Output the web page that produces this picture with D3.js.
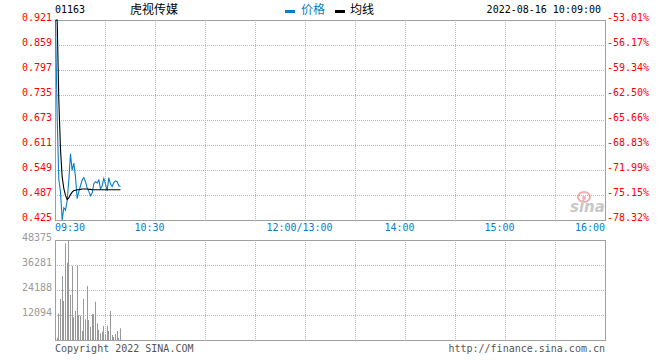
<!DOCTYPE html>
<html><head><meta charset="utf-8">
<script src="https://cdn.jsdelivr.net/npm/d3@7"></script>
<style>
html,body{margin:0;padding:0;background:#fff;}
svg{display:block;}
text{font-family:"DejaVu Sans Mono",monospace;font-size:10px;}
</style></head>
<body>
<script>
// ---- data ----
const stockCode = "01163";
const stockName = "虎视传媒";
const dateTime = "2022-08-16 10:09:00";
const legendLabels = ["价格", "均线"];
const priceTicks = [0.921, 0.859, 0.797, 0.735, 0.673, 0.611, 0.549, 0.487, 0.425];
const pctTicks = ["-53.01%", "-56.17%", "-59.34%", "-62.50%", "-65.66%", "-68.83%", "-71.99%", "-75.15%", "-78.32%"];
const volTicks = [48375, 36281, 24188, 12094];
const timeTickMinutes = [0, 60, 150, 210, 270, 330];
const timeTickLabels = ["09:30", "10:30", "12:00/13:00", "14:00", "15:00", "16:00"];
// minute-by-minute from 09:30 to 10:09
const prices = [0.921, 0.680, 0.525, 0.495, 0.425, 0.455, 0.450, 0.472, 0.525, 0.589,
  0.548, 0.566, 0.532, 0.478, 0.496, 0.510, 0.524, 0.530, 0.520, 0.504,
  0.496, 0.485, 0.492, 0.515, 0.520, 0.517, 0.524, 0.502, 0.510, 0.528,
  0.514, 0.498, 0.530, 0.514, 0.508, 0.518, 0.522, 0.520, 0.510, 0.508];
const avgPrices = [0.921, 0.921, 0.720, 0.600, 0.532, 0.503, 0.486, 0.476, 0.480, 0.488,
  0.494, 0.498, 0.499, 0.500, 0.500, 0.501, 0.502, 0.502, 0.502, 0.502,
  0.501, 0.501, 0.500, 0.500, 0.500, 0.500, 0.500, 0.500, 0.500, 0.500,
  0.500, 0.500, 0.500, 0.500, 0.500, 0.500, 0.500, 0.500, 0.500, 0.500];
const volumes = [0, 1100, 12900, 19830, 30960, 18870, 46770, 37400, 48375, 21770,
  35800, 10970, 14030, 35950, 12090, 11770, 4350, 19830, 10000, 26120,
  9680, 6290, 12580, 12420, 18540, 8060, 4840, 3230, 4030, 6770,
  2420, 6930, 4350, 14030, 2420, 1450, 2900, 4350, 1000, 5640];

// ---- layout ----
const W = 660, H = 360;
const L = 55, R = 605, T = 20, B = 220, VT = 240, VB = 340;
const blue = "#0a7dc8", red = "#ff0000", grid = "#b8b8b8", border = "#a0a0a0";

const svg = d3.select("body").append("svg").attr("width", W).attr("height", H);

const x = d3.scaleLinear().domain([0, 330]).range([L, R]);
const y = d3.scaleLinear().domain([0.425, 0.921]).range([B, T]);
const yv = d3.scaleLinear().domain([0, 48375]).range([VB, VT]);

// grids
const gridX = d3.range(30, 330, 30);
function drawGrid(top, bottom, ys) {
  svg.append("g").selectAll("line.v").data(gridX).join("line")
    .attr("x1", d => Math.round(x(d)) + 0.5).attr("x2", d => Math.round(x(d)) + 0.5)
    .attr("y1", top).attr("y2", bottom)
    .attr("stroke", grid).attr("stroke-dasharray", "1,1");
  svg.append("g").selectAll("line.h").data(ys).join("line")
    .attr("x1", L).attr("x2", R)
    .attr("y1", d => Math.round(d) + 0.5).attr("y2", d => Math.round(d) + 0.5)
    .attr("stroke", grid).attr("stroke-dasharray", "1,1");
}
drawGrid(T, B, priceTicks.slice(1, -1).map(y));
drawGrid(VT, VB, volTicks.slice(1).map(yv));

// watermark
const wm = svg.append("g").attr("opacity", 0.55);
wm.append("ellipse").attr("cx", 584).attr("cy", 197).attr("rx", 6).attr("ry", 5)
  .attr("fill", "none").attr("stroke", "#e86a6a").attr("stroke-width", 2);
wm.append("circle").attr("cx", 584).attr("cy", 198).attr("r", 2).attr("fill", "#e86a6a");
wm.append("text").attr("x", 570).attr("y", 212)
  .style("font-family", "DejaVu Sans").style("font-size", "15px")
  .style("font-weight", "bold").style("font-style", "italic")
  .attr("fill", "#9a9a9a").text("sina");

// borders
svg.append("rect").attr("x", L + 0.5).attr("y", T + 0.5).attr("width", R - L).attr("height", B - T)
  .attr("fill", "none").attr("stroke", border);
svg.append("rect").attr("x", L + 0.5).attr("y", VT + 0.5).attr("width", R - L).attr("height", VB - VT)
  .attr("fill", "none").attr("stroke", border);

// volume bars
svg.append("g").selectAll("rect").data(volumes.map((v, i) => ({v, i})).filter(d => d.v > 0)).join("rect")
  .attr("x", d => Math.round(x(d.i)))
  .attr("y", d => yv(d.v))
  .attr("width", 1)
  .attr("height", d => VB - yv(d.v))
  .attr("fill", "#999");

// lines
const line = d3.line().x((d, i) => x(i) + 0.5).y(d => y(d));
svg.append("path").datum(prices).attr("d", line)
  .attr("fill", "none").attr("stroke", blue).attr("stroke-width", 1.1);
svg.append("path").datum(avgPrices).attr("d", line)
  .attr("fill", "none").attr("stroke", "#000").attr("stroke-width", 1.1);

// left price labels
svg.append("g").selectAll("text").data(priceTicks).join("text")
  .attr("x", 52).attr("y", d => y(d) + 1).attr("text-anchor", "end")
  .attr("fill", red).text(d => d.toFixed(3));
// right pct labels
svg.append("g").selectAll("text").data(pctTicks).join("text")
  .attr("x", 607).attr("y", (d, i) => y(priceTicks[i]) + 1)
  .attr("fill", red).text(d => d);
// volume labels
svg.append("g").selectAll("text").data(volTicks).join("text")
  .attr("x", 52).attr("y", d => yv(d) + 1).attr("text-anchor", "end")
  .attr("fill", "#999").text(d => d);
// time labels
svg.append("g").selectAll("text").data(timeTickMinutes).join("text")
  .attr("x", (d, i) => i === 0 ? x(d) : (i === timeTickMinutes.length - 1 ? x(d) : x(d) - 5.5))
  .attr("y", 231)
  .attr("text-anchor", (d, i) => i === 0 ? "start" : (i === timeTickMinutes.length - 1 ? "end" : "middle"))
  .attr("fill", blue).text((d, i) => timeTickLabels[i]);

// header
svg.append("text").attr("x", 55).attr("y", 13).attr("fill", "#000").text(stockCode);
svg.append("text").attr("x", 130).attr("y", 14)
  .style("font-family", "'Noto Sans CJK SC', sans-serif").style("font-size", "12px")
  .attr("fill", "#000").text(stockName);
svg.append("rect").attr("x", 285).attr("y", 10).attr("width", 10).attr("height", 3).attr("fill", blue);
svg.append("text").attr("x", 301).attr("y", 14)
  .style("font-family", "'Noto Sans CJK SC', sans-serif").style("font-size", "12px")
  .attr("fill", blue).text(legendLabels[0]);
svg.append("rect").attr("x", 335).attr("y", 10).attr("width", 10).attr("height", 3).attr("fill", "#000");
svg.append("text").attr("x", 350).attr("y", 14)
  .style("font-family", "'Noto Sans CJK SC', sans-serif").style("font-size", "12px")
  .attr("fill", "#000").text(legendLabels[1]);
svg.append("text").attr("x", 601).attr("y", 13).attr("text-anchor", "end").attr("fill", "#000").text(dateTime);

// footer
svg.append("text").attr("x", 55).attr("y", 352).attr("fill", "#555").text("Copyright 2022 SINA.COM");
svg.append("text").attr("x", 605).attr("y", 352).attr("text-anchor", "end").attr("fill", "#555").text("http://finance.sina.com.cn");
</script>
</body></html>
